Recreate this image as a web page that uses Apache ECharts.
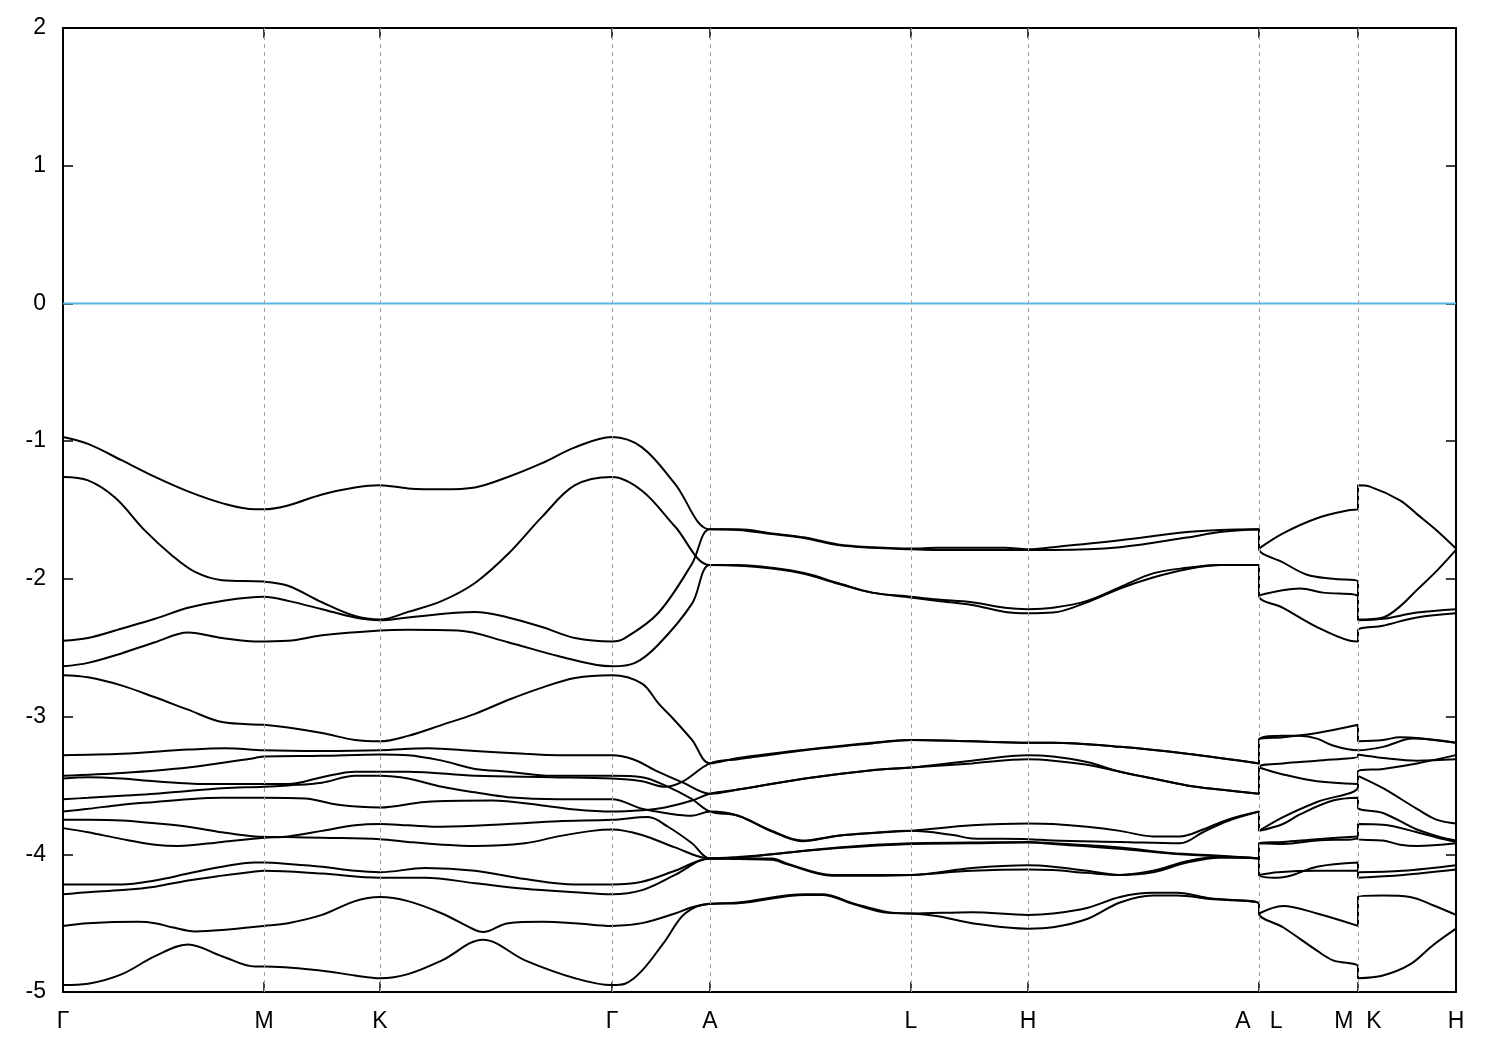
<!DOCTYPE html>
<html><head><meta charset="utf-8">
<script src="https://cdn.jsdelivr.net/npm/echarts@6/dist/echarts.min.js"></script>
<style>html,body{margin:0;padding:0;background:#fff}#c{width:1500px;height:1050px}</style>
</head><body><div id="c"></div>
<script>
// k-path positions of the high-symmetry points and their labels
const kTicks = [0, 2.01, 3.17, 5.49, 6.47, 8.48, 9.65, 11.96, 12.95, 13.93];
const kLabels = ['Γ', 'M', 'K', 'Γ', 'A', 'L', 'H', 'A   L', 'M  K', 'H'];
const eMin = -5, eMax = 2, eStep = 1;
const fermiLevel = 0;

// bands: [k, E] pairs
const band1 = [[0,-0.97],[0.25,-1.02],[0.59,-1.14],[0.92,-1.26],[1.25,-1.365],[1.59,-1.45],[1.92,-1.495],[2.01,-1.495],[2.25,-1.467],[2.59,-1.387],[2.92,-1.336],[3.17,-1.32],[3.45,-1.343],[3.79,-1.35],[4.12,-1.336],[4.45,-1.26],[4.79,-1.16],[5.12,-1.045],[5.49,-0.97],[5.79,-1.045],[6.12,-1.31],[6.47,-1.64],[6.75,-1.64],[7.09,-1.67],[7.42,-1.70],[7.75,-1.75],[8.09,-1.77],[8.48,-1.78],[8.75,-1.775],[9.42,-1.775],[9.65,-1.785],[9.9,-1.77],[10.57,-1.72],[11.24,-1.66],[11.57,-1.645],[11.96,-1.64],[11.96,-1.78],[12.2,-1.67],[12.54,-1.56],[12.87,-1.50],[12.95,-1.495],[12.95,-1.32],[13.07,-1.33],[13.37,-1.43],[13.54,-1.53],[13.74,-1.65],[13.93,-1.78]];
const band2 = [[0,-1.26],[0.25,-1.285],[0.52,-1.41],[0.82,-1.65],[1.09,-1.83],[1.32,-1.95],[1.59,-2.01],[2.01,-2.02],[2.25,-2.05],[2.59,-2.17],[2.92,-2.27],[3.17,-2.295],[3.45,-2.24],[3.79,-2.16],[4.12,-2.03],[4.45,-1.82],[4.79,-1.55],[5.12,-1.32],[5.49,-1.26],[5.79,-1.36],[6.12,-1.62],[6.47,-1.90],[6.75,-1.90],[7.09,-1.92],[7.42,-1.96],[7.75,-2.03],[8.09,-2.10],[8.48,-2.13],[8.75,-2.15],[9.09,-2.17],[9.42,-2.21],[9.65,-2.22],[9.9,-2.21],[10.24,-2.16],[10.57,-2.06],[10.9,-1.96],[11.24,-1.92],[11.57,-1.90],[11.96,-1.90],[11.96,-2.12],[12.37,-2.07],[12.6,-2.10],[12.95,-2.13],[12.95,-2.30],[13.2,-2.29],[13.54,-2.245],[13.93,-2.22]];
const band3 = [[0,-2.45],[0.25,-2.43],[0.59,-2.36],[0.92,-2.29],[1.25,-2.21],[1.59,-2.16],[2.01,-2.13],[2.25,-2.16],[2.59,-2.22],[2.92,-2.28],[3.17,-2.30],[3.45,-2.28],[4.12,-2.24],[4.45,-2.28],[4.79,-2.35],[5.12,-2.43],[5.49,-2.455],[5.62,-2.43],[5.95,-2.25],[6.29,-1.89],[6.47,-1.64],[6.75,-1.645],[7.09,-1.675],[7.42,-1.705],[7.75,-1.755],[8.09,-1.775],[8.48,-1.785],[8.75,-1.79],[9.42,-1.79],[9.65,-1.79],[9.9,-1.79],[10.57,-1.77],[11.24,-1.70],[11.57,-1.66],[11.96,-1.64],[11.96,-1.78],[12.2,-1.88],[12.44,-1.97],[12.7,-2.0],[12.95,-2.02],[12.95,-2.295],[13.2,-2.28],[13.37,-2.2],[13.54,-2.08],[13.74,-1.94],[13.93,-1.79]];
const band4 = [[0,-2.635],[0.25,-2.61],[0.59,-2.54],[0.92,-2.46],[1.25,-2.39],[1.59,-2.43],[1.92,-2.455],[2.25,-2.45],[2.59,-2.41],[3.17,-2.375],[3.45,-2.37],[3.95,-2.375],[4.45,-2.46],[4.95,-2.56],[5.49,-2.635],[5.72,-2.61],[5.95,-2.48],[6.29,-2.18],[6.47,-1.90],[6.75,-1.905],[7.09,-1.925],[7.42,-1.965],[7.75,-2.035],[8.09,-2.10],[8.48,-2.135],[8.75,-2.16],[9.09,-2.19],[9.42,-2.24],[9.65,-2.25],[9.9,-2.245],[10.24,-2.17],[10.57,-2.07],[10.9,-1.99],[11.24,-1.93],[11.57,-1.90],[11.96,-1.90],[11.96,-2.12],[12.2,-2.21],[12.54,-2.35],[12.87,-2.45],[12.95,-2.455],[12.95,-2.375],[13.2,-2.34],[13.54,-2.28],[13.93,-2.25]];
const band5 = [[0,-2.70],[0.25,-2.715],[0.59,-2.775],[0.92,-2.86],[1.25,-2.95],[1.59,-3.04],[2.01,-3.06],[2.25,-3.08],[2.59,-3.12],[2.92,-3.17],[3.17,-3.18],[3.45,-3.14],[3.79,-3.06],[4.12,-2.98],[4.45,-2.88],[4.79,-2.79],[5.12,-2.72],[5.49,-2.70],[5.79,-2.76],[5.95,-2.90],[6.12,-3.03],[6.29,-3.17],[6.47,-3.34],[6.75,-3.30],[7.42,-3.24],[8.09,-3.19],[8.48,-3.17],[9.09,-3.18],[9.65,-3.19],[9.9,-3.19],[10.57,-3.22],[11.24,-3.27],[11.96,-3.34],[11.96,-3.17],[12.2,-3.15],[12.54,-3.12],[12.95,-3.06],[12.95,-3.18],[13.2,-3.17],[13.37,-3.15],[13.54,-3.155],[13.93,-3.19]];
const band6 = [[0,-3.28],[0.59,-3.27],[1.25,-3.24],[1.62,-3.23],[2.01,-3.245],[2.59,-3.25],[3.17,-3.245],[3.65,-3.23],[4.12,-3.25],[4.62,-3.27],[4.95,-3.28],[5.49,-3.28],[5.7,-3.31],[5.95,-3.40],[6.2,-3.48],[6.47,-3.56],[6.75,-3.53],[7.42,-3.45],[8.09,-3.39],[8.48,-3.37],[9.09,-3.32],[9.65,-3.28],[9.9,-3.29],[10.24,-3.33],[10.57,-3.40],[10.9,-3.45],[11.24,-3.50],[11.57,-3.53],[11.96,-3.56],[11.96,-3.37],[12.2,-3.34],[12.54,-3.32],[12.95,-3.29],[12.95,-3.275],[13.2,-3.30],[13.54,-3.32],[13.93,-3.31]];
const band7 = [[0,-3.43],[0.59,-3.41],[1.25,-3.37],[1.92,-3.30],[2.01,-3.29],[2.59,-3.285],[3.17,-3.275],[3.45,-3.28],[3.79,-3.32],[4.12,-3.38],[4.45,-3.40],[4.89,-3.43],[5.49,-3.43],[5.79,-3.44],[6.02,-3.50],[6.29,-3.60],[6.47,-3.69],[6.75,-3.72],[7.09,-3.83],[7.39,-3.90],[7.75,-3.865],[8.09,-3.845],[8.48,-3.83],[9.09,-3.79],[9.65,-3.776],[9.9,-3.78],[10.24,-3.80],[10.57,-3.83],[10.9,-3.87],[11.17,-3.87],[11.4,-3.82],[11.64,-3.75],[11.96,-3.69],[11.96,-3.83],[12.2,-3.73],[12.54,-3.62],[12.95,-3.51],[12.95,-3.40],[13.2,-3.38],[13.54,-3.34],[13.93,-3.28]];
const band8 = [[0,-3.45],[0.25,-3.44],[0.59,-3.45],[0.92,-3.47],[1.42,-3.49],[2.01,-3.49],[2.25,-3.49],[2.59,-3.44],[2.92,-3.40],[3.17,-3.40],[3.45,-3.40],[4.12,-3.43],[4.89,-3.44],[5.49,-3.45],[5.79,-3.47],[6.02,-3.51],[6.2,-3.47],[6.47,-3.34],[6.75,-3.31],[7.42,-3.245],[8.09,-3.195],[8.48,-3.17],[9.09,-3.18],[9.65,-3.19],[9.9,-3.19],[10.57,-3.22],[11.24,-3.27],[11.96,-3.34],[11.96,-3.17],[12.2,-3.14],[12.37,-3.14],[12.54,-3.16],[12.7,-3.21],[12.95,-3.245],[13.2,-3.22],[13.5,-3.16],[13.93,-3.19]];
const band9 = [[0,-3.60],[0.25,-3.59],[0.59,-3.575],[0.92,-3.56],[1.25,-3.54],[1.59,-3.52],[2.01,-3.51],[2.25,-3.50],[2.59,-3.48],[2.92,-3.43],[3.17,-3.43],[3.45,-3.45],[3.79,-3.51],[4.12,-3.55],[4.45,-3.585],[4.95,-3.60],[5.49,-3.60],[5.79,-3.67],[6.02,-3.70],[6.29,-3.72],[6.47,-3.69],[6.75,-3.72],[7.09,-3.835],[7.39,-3.905],[7.75,-3.865],[8.09,-3.845],[8.48,-3.83],[8.9,-3.86],[9.09,-3.885],[9.65,-3.89],[9.9,-3.90],[10.57,-3.91],[11.17,-3.92],[11.4,-3.84],[11.64,-3.76],[11.96,-3.69],[11.96,-3.83],[12.2,-3.78],[12.37,-3.71],[12.7,-3.61],[12.95,-3.59],[12.95,-3.66],[13.2,-3.70],[13.54,-3.82],[13.8,-3.88],[13.93,-3.90]];
const band10 = [[0,-3.69],[0.25,-3.67],[0.59,-3.64],[0.92,-3.62],[1.25,-3.60],[1.59,-3.59],[2.01,-3.59],[2.42,-3.595],[2.75,-3.64],[3.17,-3.66],[3.62,-3.62],[4.29,-3.61],[4.79,-3.645],[5.12,-3.675],[5.49,-3.69],[5.79,-3.68],[6.02,-3.66],[6.29,-3.61],[6.47,-3.56],[6.75,-3.53],[7.42,-3.45],[8.09,-3.39],[8.48,-3.37],[9.09,-3.34],[9.65,-3.31],[9.9,-3.32],[10.24,-3.35],[10.57,-3.40],[10.9,-3.45],[11.24,-3.50],[11.57,-3.53],[11.96,-3.56],[11.96,-3.37],[12.2,-3.42],[12.54,-3.47],[12.95,-3.49],[12.95,-3.43],[13.2,-3.52],[13.54,-3.67],[13.74,-3.75],[13.93,-3.776]];
const band11 = [[0,-3.75],[0.25,-3.75],[0.59,-3.755],[0.92,-3.775],[1.25,-3.80],[1.59,-3.84],[1.92,-3.87],[2.25,-3.875],[2.59,-3.88],[3.17,-3.89],[3.45,-3.91],[3.79,-3.93],[4.12,-3.94],[4.62,-3.92],[4.95,-3.87],[5.29,-3.83],[5.49,-3.82],[5.79,-3.86],[6.12,-3.95],[6.47,-4.03],[6.75,-4.02],[7.09,-4.0],[7.75,-3.95],[8.48,-3.92],[9.09,-3.915],[9.65,-3.91],[9.9,-3.92],[10.57,-3.95],[11.07,-3.99],[11.57,-4.01],[11.96,-4.03],[11.96,-3.92],[12.2,-3.91],[12.54,-3.89],[12.95,-3.87],[12.95,-3.89],[13.2,-3.90],[13.37,-3.93],[13.54,-3.94],[13.93,-3.92]];
const band12 = [[0,-3.81],[0.25,-3.84],[0.59,-3.89],[0.92,-3.93],[1.15,-3.94],[1.59,-3.91],[2.01,-3.88],[2.25,-3.87],[2.59,-3.83],[2.92,-3.79],[3.17,-3.78],[3.45,-3.79],[3.79,-3.80],[4.45,-3.78],[4.95,-3.76],[5.49,-3.75],[5.85,-3.73],[6.05,-3.80],[6.29,-3.92],[6.47,-4.03],[6.75,-4.025],[7.09,-4.0],[7.75,-3.955],[8.48,-3.925],[9.09,-3.92],[9.65,-3.915],[9.9,-3.925],[10.57,-3.96],[11.07,-3.995],[11.57,-4.015],[11.96,-4.03],[11.96,-3.92],[12.2,-3.925],[12.54,-3.90],[12.95,-3.88],[12.95,-3.78],[13.2,-3.785],[13.54,-3.84],[13.8,-3.89],[13.93,-3.91]];
const band13 = [[0,-4.22],[0.59,-4.22],[0.92,-4.19],[1.25,-4.14],[1.59,-4.09],[1.92,-4.06],[2.01,-4.06],[2.25,-4.07],[2.59,-4.09],[2.92,-4.12],[3.17,-4.13],[3.62,-4.10],[4.12,-4.12],[4.62,-4.18],[5.12,-4.22],[5.49,-4.22],[5.79,-4.20],[6.12,-4.12],[6.47,-4.03],[6.75,-4.03],[7.09,-4.03],[7.25,-4.07],[7.69,-4.15],[8.09,-4.15],[8.48,-4.15],[9.09,-4.10],[9.65,-4.08],[9.9,-4.09],[10.24,-4.12],[10.57,-4.15],[10.9,-4.12],[11.24,-4.05],[11.57,-4.02],[11.96,-4.03],[11.96,-4.15],[12.15,-4.17],[12.3,-4.15],[12.54,-4.09],[12.95,-4.06],[12.95,-4.13],[13.4,-4.12],[13.93,-4.08]];
const band14 = [[0,-4.29],[0.25,-4.275],[0.59,-4.26],[0.92,-4.235],[1.25,-4.19],[1.59,-4.155],[1.92,-4.125],[2.01,-4.12],[2.59,-4.14],[3.17,-4.17],[3.62,-4.17],[4.12,-4.21],[4.62,-4.25],[5.12,-4.275],[5.49,-4.29],[5.79,-4.26],[6.12,-4.15],[6.47,-4.03],[6.75,-4.035],[7.09,-4.04],[7.25,-4.075],[7.69,-4.155],[8.09,-4.155],[8.48,-4.15],[9.09,-4.12],[9.65,-4.11],[9.9,-4.115],[10.24,-4.135],[10.57,-4.15],[10.9,-4.13],[11.24,-4.06],[11.57,-4.025],[11.96,-4.03],[11.96,-4.15],[12.15,-4.13],[12.54,-4.12],[12.95,-4.12],[12.95,-4.17],[13.4,-4.15],[13.93,-4.11]];
const band15 = [[0,-4.52],[0.25,-4.50],[0.75,-4.49],[0.92,-4.50],[1.09,-4.53],[1.32,-4.56],[1.59,-4.55],[2.01,-4.52],[2.25,-4.50],[2.59,-4.44],[2.92,-4.34],[3.17,-4.31],[3.45,-4.34],[3.79,-4.43],[4.12,-4.55],[4.2,-4.565],[4.45,-4.50],[4.79,-4.49],[5.12,-4.50],[5.49,-4.52],[5.79,-4.50],[6.12,-4.43],[6.29,-4.385],[6.47,-4.36],[6.75,-4.35],[7.42,-4.29],[7.59,-4.29],[7.92,-4.36],[8.25,-4.42],[8.48,-4.43],[9.09,-4.42],[9.65,-4.44],[9.9,-4.43],[10.24,-4.39],[10.57,-4.31],[10.9,-4.28],[11.14,-4.28],[11.47,-4.32],[11.96,-4.36],[11.96,-4.43],[12.2,-4.375],[12.54,-4.43],[12.95,-4.52],[12.95,-4.31],[13.2,-4.30],[13.47,-4.31],[13.7,-4.37],[13.93,-4.44]];
const band16 = [[0,-4.95],[0.25,-4.94],[0.59,-4.87],[0.92,-4.74],[1.25,-4.655],[1.59,-4.74],[1.92,-4.815],[2.01,-4.815],[2.59,-4.845],[2.92,-4.88],[3.17,-4.90],[3.45,-4.87],[3.79,-4.77],[4.2,-4.62],[4.62,-4.77],[5.12,-4.90],[5.49,-4.95],[5.62,-4.94],[5.79,-4.845],[6.02,-4.63],[6.22,-4.43],[6.47,-4.36],[6.75,-4.355],[7.42,-4.295],[7.59,-4.295],[7.92,-4.365],[8.25,-4.425],[8.48,-4.43],[8.75,-4.45],[9.09,-4.50],[9.65,-4.54],[9.9,-4.53],[10.24,-4.47],[10.57,-4.35],[10.9,-4.30],[11.14,-4.30],[11.47,-4.325],[11.96,-4.36],[11.96,-4.43],[12.2,-4.53],[12.54,-4.70],[12.7,-4.77],[12.95,-4.815],[12.95,-4.90],[13.2,-4.88],[13.47,-4.80],[13.7,-4.66],[13.93,-4.54]];

const bands = [band1, band2, band3, band4, band5, band6, band7, band8, band9, band10, band11, band12, band13, band14, band15, band16];

const FONT = "'Liberation Sans', Arial, sans-serif";
const kMin = kTicks[0], kMax = kTicks[kTicks.length - 1];
function kLabel(v) {
  const i = kTicks.findIndex(t => Math.abs(t - v) < 1e-6);
  return i >= 0 ? kLabels[i] : '';
}

const axisLine = { show: true, onZero: false, lineStyle: { color: '#000', width: 2 } };
const tickStyle = { show: true, inside: true, length: 10, lineStyle: { color: '#000', width: 1.5 } };

const series = bands.map((b, i) => ({
  name: 'band' + (i + 1),
  type: 'line',
  data: b,
  showSymbol: false,
  symbol: 'none',
  smooth: 0.35,
  lineStyle: { color: '#000', width: 2 },
  z: 3,
  silent: true
}));

series.unshift({
  name: 'fermi',
  type: 'line',
  data: [[kMin, fermiLevel], [kMax, fermiLevel]],
  showSymbol: false,
  symbol: 'none',
  lineStyle: { color: '#56b4e9', width: 2 },
  z: 2,
  silent: true,
  markLine: {
    silent: true,
    symbol: ['none', 'none'],
    label: { show: false },
    lineStyle: { color: '#a0a0a0', width: 1, type: [4, 4] },
    data: kTicks.slice(1, -1).map(v => ({ xAxis: v }))
  }
});

const chart = echarts.init(document.getElementById('c'), null, { renderer: 'canvas' });
chart.setOption({
  animation: false,
  backgroundColor: '#fff',
  grid: { left: 63, right: 44, top: 28, bottom: 58, containLabel: false },
  xAxis: [{
    type: 'value', min: kMin, max: kMax, position: 'bottom',
    axisLine: axisLine,
    axisTick: Object.assign({ customValues: kTicks }, tickStyle),
    axisLabel: { customValues: kTicks, formatter: kLabel, color: '#000', fontSize: 23, fontFamily: FONT, margin: 18 },
    splitLine: { show: false }
  }, {
    type: 'value', min: kMin, max: kMax, position: 'top',
    axisLine: axisLine,
    axisTick: Object.assign({ customValues: kTicks }, tickStyle),
    axisLabel: { show: false },
    splitLine: { show: false }
  }],
  yAxis: [{
    type: 'value', min: eMin, max: eMax, interval: eStep, position: 'left',
    axisLine: axisLine,
    axisTick: tickStyle,
    axisLabel: { color: '#000', fontSize: 23, fontFamily: FONT, margin: 17 },
    splitLine: { show: false }
  }, {
    type: 'value', min: eMin, max: eMax, interval: eStep, position: 'right',
    axisLine: axisLine,
    axisTick: tickStyle,
    axisLabel: { show: false },
    splitLine: { show: false }
  }],
  series: series
});
</script>
</body></html>
